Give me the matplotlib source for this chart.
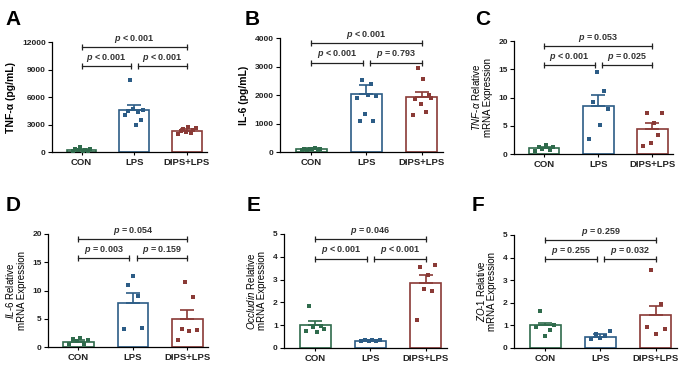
import numpy as np
import matplotlib
matplotlib.use("Agg")
import matplotlib.pyplot as plt

plt.rcParams['font.family'] = ['Liberation Sans', 'DejaVu Sans']
plt.rcParams['mathtext.fontset'] = 'custom'
plt.rcParams['mathtext.rm'] = 'Liberation Sans'
plt.rcParams['mathtext.it'] = 'Liberation Sans:italic'
plt.rcParams['mathtext.bf'] = 'Liberation Sans:bold:italic'

groups = ['CON', 'LPS', 'DIPS+LPS']
colors = ['#2f6b4c', '#2c5c86', '#8a3a36']

# A  TNF-a protein
tnf_mean = [180, 4580, 2310]
tnf_err = [120, 520, 180]
tnf_pts = [[100, 350, 200, 500, 150, 250, 80, 300],
           [4000, 4500, 7900, 4700, 3000, 4400, 3500, 4600],
           [2000, 2300, 2500, 2200, 2700, 2100, 2400, 2600]]
# B  IL-6 protein
il6_mean = [100, 2020, 1940]
il6_err = [25, 320, 180]
il6_pts = [[80, 120, 60, 110, 90, 130, 70, 100],
           [1900, 1100, 2540, 1350, 2000, 2400, 1100, 1950],
           [1300, 1850, 2950, 1700, 2550, 1400, 2000, 1900]]
# C  TNF-a mRNA
tnf_m_mean = [1.0, 8.55, 4.5]
tnf_m_err = [0.25, 1.95, 1.05]
tnf_m_pts = [[0.6, 1.3, 0.9, 1.6, 0.7, 1.2],
             [2.6, 9.2, 14.5, 5.1, 11.2, 8.0],
             [1.5, 7.3, 2.0, 5.4, 3.3, 7.3]]
# D  IL-6 mRNA
il6_m_mean = [0.9, 7.7, 4.9]
il6_m_err = [0.3, 1.8, 1.7]
il6_m_pts = [[0.6, 1.5, 1.0, 1.6, 0.5, 1.2],
             [3.1, 10.9, 12.6, 9.0, 3.3],
             [1.2, 3.2, 11.5, 2.8, 8.9, 3.0]]
# E  Occludin mRNA
ocl_mean = [1.02, 0.32, 2.85]
ocl_err = [0.15, 0.02, 0.35]
ocl_pts = [[0.75, 1.85, 0.9, 0.7, 0.95, 0.85],
           [0.3, 0.33, 0.31, 0.34, 0.3, 0.35],
           [1.25, 3.55, 2.6, 3.2, 2.5, 3.65]]
# F  ZO-1 mRNA
zo1_mean = [1.0, 0.5, 1.45]
zo1_err = [0.12, 0.1, 0.42]
zo1_pts = [[0.95, 1.62, 0.55, 0.8, 1.0],
           [0.4, 0.62, 0.45, 0.55, 0.75],
           [0.95, 3.45, 0.6, 1.95, 0.85]]

panels = [
    dict(letter='A', mean=tnf_mean, err=tnf_err, pts=tnf_pts, ymax=12000, yt=[0, 3000, 6000, 9000, 12000],
         ylabel='TNF-α (pg/mL)', bold=True, p=['p < 0.001', 'p < 0.001', 'p < 0.001'],
         box=(52, 207, 42, 152), lx=5, ly=10),
    dict(letter='B', mean=il6_mean, err=il6_err, pts=il6_pts, ymax=4000, yt=[0, 1000, 2000, 3000, 4000],
         ylabel='IL-6 (pg/mL)', bold=True, p=['p < 0.001', 'p < 0.001', 'p = 0.793'],
         box=(280, 443, 38, 152), lx=245, ly=10),
    dict(letter='C', mean=tnf_m_mean, err=tnf_m_err, pts=tnf_m_pts, ymax=20, yt=[0, 5, 10, 15, 20],
         ylabel=r'$\mathit{TNF}$-$\mathit{α}$ Relative' + '\nmRNA Expression', bold=False,
         p=['p = 0.053', 'p < 0.001', 'p = 0.025'], box=(514, 673, 41, 154), lx=475, ly=10),
    dict(letter='D', mean=il6_m_mean, err=il6_m_err, pts=il6_m_pts, ymax=20, yt=[0, 5, 10, 15, 20],
         ylabel=r'$\mathit{IL}$-$\mathit{6}$ Relative' + '\nmRNA Expression', bold=False,
         p=['p = 0.054', 'p = 0.003', 'p = 0.159'], box=(48, 208, 234, 347), lx=6, ly=196),
    dict(letter='E', mean=ocl_mean, err=ocl_err, pts=ocl_pts, ymax=5, yt=[0, 1, 2, 3, 4, 5],
         ylabel=r'$\mathit{Occludin}$ Relative' + '\nmRNA Expression', bold=False,
         p=['p = 0.046', 'p < 0.001', 'p < 0.001'], box=(284, 447, 234, 348), lx=247, ly=196),
    dict(letter='F', mean=zo1_mean, err=zo1_err, pts=zo1_pts, ymax=5, yt=[0, 1, 2, 3, 4, 5],
         ylabel=r'$\mathit{ZO}$-$\mathit{1}$ Relative' + '\nmRNA Expression', bold=False,
         p=['p = 0.259', 'p = 0.255', 'p = 0.032'], box=(514, 677, 235, 348), lx=472, ly=196),
]

W, H = 690, 372
fig = plt.figure(figsize=(W / 100, H / 100), dpi=100)
x = np.arange(3)
txt_c = '#333333'

for pn in panels:
    x0, x1, yt_px, yb_px = pn['box']
    ax = fig.add_axes([x0 / W, 1 - yb_px / H, (x1 - x0) / W, (yb_px - yt_px) / H])
    ax.bar(x, pn['mean'], width=0.56, color='white', edgecolor=colors, linewidth=1.2, zorder=2)
    for i in range(3):
        ax.errorbar(x[i], pn['mean'][i], yerr=[[0], [pn['err'][i]]], color=colors[i],
                    capsize=5, elinewidth=1.2, capthick=1.2, zorder=3)
        n = len(pn['pts'][i])
        ax.scatter(x[i] + np.linspace(-0.17, 0.17, n), pn['pts'][i], marker='s', s=5,
                   color=colors[i], linewidths=0, zorder=4)
    ymax = pn['ymax']
    ax.set_xlim(-0.56, 2.38)
    ax.set_ylim(0, ymax)
    ax.set_yticks(pn['yt'])
    ax.set_xticks(x)
    ax.set_xticklabels(groups, fontsize=6.8, fontweight='bold', color='#222222')
    ax.tick_params(axis='y', labelsize=6, length=3, width=0.8, pad=1.5, labelcolor='#222222')
    ax.tick_params(axis='x', length=2, width=0.8, pad=2)
    for lab in ax.get_yticklabels():
        lab.set_fontweight('bold')
    for s in ['top', 'right']:
        ax.spines[s].set_visible(False)
    for s in ['left', 'bottom']:
        ax.spines[s].set_linewidth(0.9)
    if pn['bold']:
        ax.set_ylabel(pn['ylabel'], fontsize=7.5, fontweight='bold', labelpad=4)
    else:
        ax.set_ylabel(pn['ylabel'], fontsize=7, labelpad=4, linespacing=1.1)

    # significance brackets
    ytop, ylow = 0.955 * ymax, 0.785 * ymax
    brackets = [(0, 2, ytop), (0, 0.93, ylow), (1.07, 2, ylow)]
    for (a, b, yy), ptxt in zip(brackets, pn['p']):
        ax.plot([a, b], [yy, yy], color='#222222', lw=0.9, clip_on=False,
                marker='|', markersize=4, markeredgewidth=0.9)
        ax.annotate('$\\mathbf{p}$' + ptxt[1:], xy=((a + b) / 2, yy), xytext=(0, 1.5),
                    textcoords='offset points', ha='center', va='bottom',
                    fontsize=6.5, fontweight='bold', color=txt_c, annotation_clip=False)

    fig.text(pn['lx'] / W, 1 - pn['ly'] / H, pn['letter'], fontsize=15, fontweight='bold',
             ha='left', va='top')

fig.savefig('out.png', dpi=100)
